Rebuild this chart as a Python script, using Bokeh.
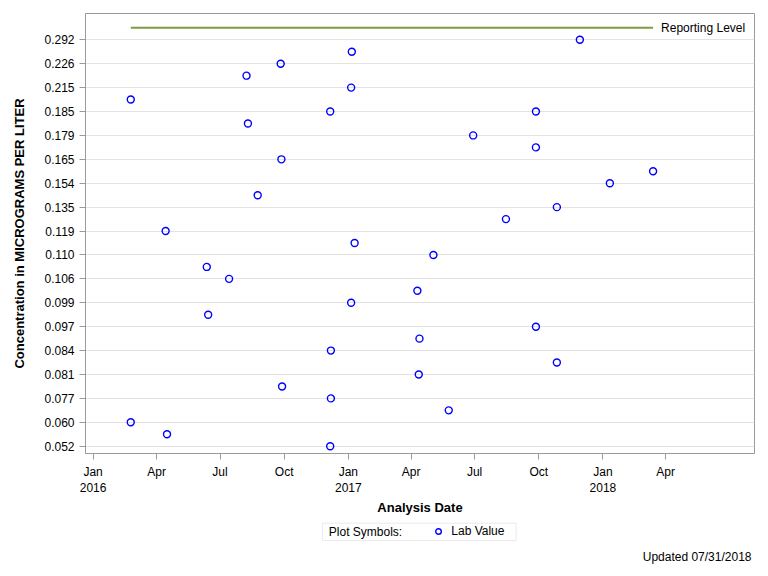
from datetime import datetime
from bokeh.plotting import figure
from bokeh.layouts import column
from bokeh.models import (Range1d, FixedTicker, ColumnDataSource, Legend,
                          LegendItem, Label, BoxAnnotation)
from bokeh.embed import file_html
from bokeh.resources import INLINE

# ---------------- data ----------------
sample_dates = [
    "2016-02-24", "2016-02-24", "2016-04-14", "2016-04-16", "2016-06-12",
    "2016-06-14", "2016-07-14", "2016-08-08", "2016-08-10", "2016-08-24",
    "2016-09-26", "2016-09-27", "2016-09-28", "2016-12-06", "2016-12-06",
    "2016-12-07", "2016-12-07", "2017-01-05", "2017-01-05", "2017-01-06",
    "2017-01-10", "2017-04-10", "2017-04-12", "2017-04-13", "2017-05-03",
    "2017-05-25", "2017-06-29", "2017-08-15", "2017-09-27", "2017-09-27",
    "2017-09-27", "2017-10-27", "2017-10-27", "2017-11-29", "2018-01-11",
    "2018-03-14",
]
sample_values = [
    0.19, 0.060, 0.119, 0.056, 0.108,
    0.098, 0.106, 0.22, 0.18, 0.14,
    0.226, 0.165, 0.079, 0.185, 0.052,
    0.084, 0.077, 0.215, 0.099, 0.25,
    0.115, 0.102, 0.081, 0.09, 0.110,
    0.068, 0.179, 0.127, 0.185, 0.17,
    0.097, 0.135, 0.082, 0.292, 0.154,
    0.16,
]
reporting_level = 0.5

y_tick_values = [0.292, 0.226, 0.215, 0.185, 0.179, 0.165, 0.154, 0.135, 0.119,
                 0.110, 0.106, 0.099, 0.097, 0.084, 0.081, 0.077, 0.060, 0.052]
y_tick_labels = ["0.292", "0.226", "0.215", "0.185", "0.179", "0.165", "0.154",
                 "0.135", "0.119", "0.110", "0.106", "0.099", "0.097", "0.084",
                 "0.081", "0.077", "0.060", "0.052"]

x_tick_dates = ["2016-01-01", "2016-04-01", "2016-07-01", "2016-10-01",
                "2017-01-01", "2017-04-01", "2017-07-01", "2017-10-01",
                "2018-01-01", "2018-04-01"]
x_tick_labels = ["Jan\n2016", "Apr", "Jul", "Oct", "Jan\n2017", "Apr", "Jul",
                 "Oct", "Jan\n2018", "Apr"]

# ---------------- helpers ----------------
FONT = "Liberation Sans"
EPOCH = datetime(1970, 1, 1)
W = 760
H1 = 520
H2 = 48
LEFT = 85
RIGHT = 754
FRAME_TOP = 13
FRAME_BOTTOM = 453


def to_dt(s):
    return datetime.strptime(s, "%Y-%m-%d")


def to_ms(d):
    return (d - EPOCH).total_seconds() * 1000.0


# ordinal (discrete) concentration axis: each distinct value is one level
levels = sorted(set(sample_values) | {reporting_level}, reverse=True)
rank = {v: i for i, v in enumerate(levels)}

dates = [to_dt(s) for s in sample_dates]
src = ColumnDataSource(dict(x=dates, y=[rank[v] for v in sample_values],
                            value=sample_values))

p = figure(width=W, height=H1, x_axis_type="datetime",
           x_range=Range1d(datetime(2015, 12, 21, 2), datetime(2018, 8, 6, 10)),
           y_range=Range1d(len(levels) - 1 + 0.61, -1.2),
           output_backend="svg", toolbar_location=None,
           min_border_left=LEFT, min_border_right=W - RIGHT,
           min_border_top=FRAME_TOP, min_border_bottom=H1 - FRAME_BOTTOM)
p.background_fill_color = "white"
p.border_fill_color = "white"
p.outline_line_color = "#9b9b9b"
p.outline_line_width = 1

# grid
p.xgrid.visible = False
p.ygrid.grid_line_color = "#e3e3e3"
p.ygrid.grid_line_width = 1

# y axis
ya = p.yaxis[0]
ya.ticker = FixedTicker(ticks=[rank[v] for v in y_tick_values])
ya.major_label_overrides = {rank[v]: lab for v, lab in zip(y_tick_values, y_tick_labels)}
ya.axis_label = "Concentration in MICROGRAMS PER LITER"
ya.axis_label_text_font = FONT
ya.axis_label_text_font_style = "bold"
ya.axis_label_text_font_size = "13px"
ya.axis_label_text_color = "black"
ya.axis_label_standoff = 14
ya.major_label_text_font = FONT
ya.major_label_text_font_size = "12px"
ya.major_label_text_color = "black"
ya.major_label_standoff = 5

# x axis
xa = p.xaxis[0]
xa.ticker = FixedTicker(ticks=[to_ms(to_dt(s)) for s in x_tick_dates])
xa.major_label_overrides = {to_ms(to_dt(s)): lab for s, lab in zip(x_tick_dates, x_tick_labels)}
xa.axis_label = "Analysis Date"
xa.axis_label_text_font = FONT
xa.axis_label_text_font_style = "bold"
xa.axis_label_text_font_size = "13px"
xa.axis_label_text_color = "black"
xa.axis_label_standoff = 2
xa.major_label_text_font = FONT
xa.major_label_text_font_size = "12px"
xa.major_label_text_color = "black"
xa.major_label_standoff = 5

for ax in (xa, ya):
    ax.axis_line_color = "#9b9b9b"
    ax.major_tick_line_color = "#9b9b9b"
    ax.major_tick_in = 0
    ax.major_tick_out = 6
    ax.minor_tick_line_color = None

# reporting level line across the sampled period
p.line(x=[min(dates), max(dates)], y=[rank[reporting_level]] * 2,
       line_color="#809c40", line_width=2)
p.add_layout(Label(x=max(dates), y=rank[reporting_level], x_offset=8,
                   text="Reporting Level", text_font=FONT,
                   text_font_size="12px", text_baseline="middle",
                   text_color="black"))

# lab values
r = p.scatter("x", "y", source=src, marker="circle", size=7,
              fill_color=None, line_color="#0000ff", line_width=1.4)

# ---------------- legend / footnote strip ----------------
# strip coordinates: x in page pixels, y in page pixels measured from strip top
top0 = H1
p2 = figure(width=W, height=H2, x_range=Range1d(LEFT, RIGHT),
            y_range=Range1d(H2, 0),
            x_axis_location=None, y_axis_location=None,
            output_backend="svg", toolbar_location=None,
            min_border_left=LEFT, min_border_right=W - RIGHT,
            min_border_top=0, min_border_bottom=0)
p2.grid.visible = False
p2.outline_line_color = None
p2.background_fill_color = "white"
p2.border_fill_color = "white"

p2.add_layout(BoxAnnotation(left=322, right=515.7, top=522.7 - top0,
                            bottom=540 - top0, fill_alpha=0,
                            line_color="#bdbdbd", line_width=1))
p2.add_layout(Label(x=328.3, y=531.3 - top0, text="Plot Symbols:",
                    text_font=FONT, text_font_size="12px",
                    text_baseline="middle", text_color="black"))
# legend key proxy (kept outside the visible strip)
proxy = p2.scatter(x=[-1000], y=[-1000], marker="circle", size=7,
                   fill_color=None, line_color="#0000ff", line_width=1.4)
leg = Legend(items=[LegendItem(label="Lab Value", renderers=[proxy])],
             location=(431.3 - LEFT, (H2 - (531.3 - top0)) - 7),
             orientation="horizontal",
             padding=0, margin=0, spacing=0, glyph_width=14, glyph_height=14,
             label_height=14, label_standoff=6, border_line_color=None,
             background_fill_alpha=0, label_text_font=FONT,
             label_text_font_size="12px", label_text_color="black")
p2.add_layout(leg, "center")
p2.add_layout(Label(x=751, y=556.5 - top0, text="Updated 07/31/2018",
                    text_font=FONT, text_font_size="12px", text_align="right",
                    text_baseline="middle", text_color="black"))

layout = column(p, p2, spacing=0)
open("out.html", "w").write(file_html(layout, INLINE))
